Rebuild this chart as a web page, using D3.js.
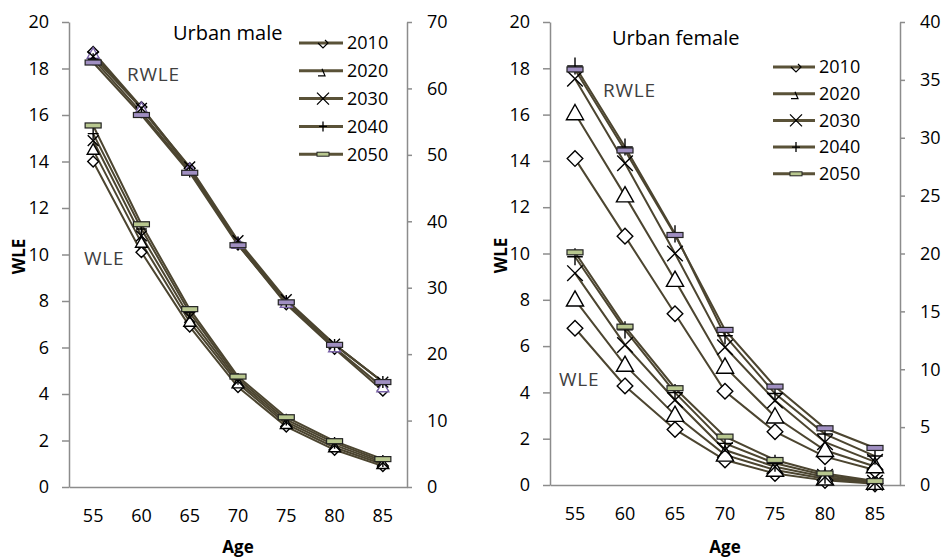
<!DOCTYPE html>
<html>
<head>
<meta charset="utf-8">
<script src="https://cdn.jsdelivr.net/npm/d3@7"></script>
<style>
  body { margin: 0; background: #fff; }
  svg { display: block; font-family: "Open Sans", sans-serif; }
</style>
</head>
<body>
<script>
const width = 946,
  height = 557;

// shared categories
const ages = [55, 60, 65, 70, 75, 80, 85];
const years = ["2010", "2020", "2030", "2040", "2050"];

// Urban male: WLE on left axis (0-20), RWLE on right axis (0-70)
const maleWLE = [
  [14.0, 10.1, 6.9, 4.3, 2.6, 1.6, 0.9],
  [14.5, 10.5, 7.1, 4.45, 2.7, 1.7, 0.98],
  [14.9, 10.8, 7.3, 4.55, 2.8, 1.8, 1.05],
  [15.2, 11.1, 7.5, 4.65, 2.9, 1.9, 1.12],
  [15.55, 11.3, 7.65, 4.75, 3.0, 1.97, 1.2],
];
const maleRWLE = [
  [65.5, 57.2, 48.0, 36.5, 27.5, 20.8, 14.5],
  [65.2, 57.0, 47.8, 36.6, 27.7, 21.0, 15.0],
  [64.8, 57.0, 48.2, 37.1, 28.2, 21.5, 15.8],
  [64.4, 56.4, 47.5, 36.8, 28.0, 21.4, 15.8],
  [63.9, 56.0, 47.3, 36.4, 27.8, 21.4, 15.8],
];

// Urban female: WLE on left axis (0-20), RWLE on right axis (0-40)
const femaleWLE = [
  [6.77, 4.28, 2.4, 1.08, 0.5, 0.2, 0.05],
  [8.0, 5.18, 3.02, 1.3, 0.65, 0.27, 0.08],
  [9.15, 6.05, 3.67, 1.51, 0.79, 0.35, 0.1],
  [9.86, 6.7, 3.99, 1.8, 0.94, 0.42, 0.13],
  [10.05, 6.84, 4.18, 2.09, 1.08, 0.5, 0.17],
];
const femaleRWLE = [
  [28.2, 21.5, 14.8, 8.1, 4.6, 2.45, 1.3],
  [32.1, 25.0, 17.7, 10.2, 5.9, 3.0, 1.6],
  [35.1, 27.8, 20.0, 11.9, 7.3, 3.7, 2.0],
  [36.2, 29.2, 21.7, 12.9, 7.9, 4.4, 2.5],
  [35.9, 28.9, 21.6, 13.4, 8.5, 4.9, 3.2],
];

const leftTicks = d3.range(0, 21, 2);

const lineColor = "#4c4530";
const axisColor = "#8c8c8c";
const purpleFill = "#a08fc2";
const greenFill = "#b8c78f";

const svg = d3
  .select("body")
  .append("svg")
  .attr("width", width)
  .attr("height", height)
  .attr("viewBox", [0, 0, width, height]);

// marker shapes, k = size factor
function markerPath(i, k) {
  const s = 6 * k;
  if (i === 0) return `M0,${-s}L${s},0L0,${s}L${-s},0Z`;
  if (i === 1) return `M0,${-s * 1.15}L${s * 1.1},${s * 0.8}L${-s * 1.1},${s * 0.8}Z`;
  if (i === 2) return `M${-s},${-s}L${s},${s}M${-s},${s}L${s},${-s}`;
  if (i === 3) return `M${-s},0L${s},0M0,${-s * 1.1}L0,${s * 1.1}`;
  return null;
}

function drawPanel(p) {
  const g = svg.append("g");

  const x = d3.scaleBand().domain(ages).range([p.x0, p.x1]);
  const cx = (a) => x(a) + x.bandwidth() / 2;
  const yL = d3.scaleLinear().domain([0, 20]).range([p.yb, p.yt]);
  const yR = d3.scaleLinear().domain([0, p.rmax]).range([p.yb, p.yt]);

  // axes
  const left = g
    .append("g")
    .attr("transform", `translate(${p.x0},0)`)
    .call(d3.axisLeft(yL).tickValues(leftTicks).tickSize(7).tickPadding(13).tickSizeOuter(0));
  const right = g
    .append("g")
    .attr("transform", `translate(${p.x1},0)`)
    .call(d3.axisRight(yR).tickValues(d3.range(0, p.rmax + 1, p.rstep)).tickSize(5).tickPadding(15).tickSizeOuter(0));
  const bottom = g
    .append("g")
    .attr("transform", `translate(0,${p.yb})`)
    .call(d3.axisBottom(x).tickSize(0).tickPadding(22).tickSizeOuter(0));

  [left, right, bottom].forEach((ax) => {
    ax.select(".domain").attr("stroke", axisColor).attr("stroke-width", 1.5);
    ax.selectAll(".tick line").attr("stroke", axisColor).attr("stroke-width", 1.5);
    ax.selectAll("text").attr("fill", "#000").style("font-size", "18px").style("font-family", "Open Sans");
  });

  // draw series: WLE (left axis) then RWLE (right axis)
  const groups = [
    { data: p.wle, y: yL, fill: greenFill, tri: "#000" },
    { data: p.rwle, y: yR, fill: purpleFill, tri: p.rwleTri },
  ];

  const line = (y) =>
    d3
      .line()
      .x((d, i) => cx(ages[i]))
      .y((d) => y(d));

  groups.forEach((grp) => {
    grp.data.forEach((vals) => {
      g.append("path")
        .datum(vals)
        .attr("d", line(grp.y))
        .attr("fill", "none")
        .attr("stroke", lineColor)
        .attr("stroke-width", 2);
    });
  });

  groups.forEach((grp) => {
    grp.data.forEach((vals, si) => {
      const pts = g
        .append("g")
        .selectAll("g")
        .data(vals)
        .join("g")
        .attr("transform", (d, i) => `translate(${cx(ages[i])},${grp.y(d)})`);
      if (si < 4) {
        pts
          .append("path")
          .attr("d", markerPath(si, p.mk))
          .attr("fill", si < 2 ? "#fff" : "none")
          .attr("stroke", si === 1 ? grp.tri : "#000")
          .attr("stroke-width", 1.4);
      } else {
        pts
          .append("rect")
          .attr("x", -8)
          .attr("y", -2.5)
          .attr("width", 16)
          .attr("height", 5)
          .attr("fill", grp.fill)
          .attr("stroke", "#222")
          .attr("stroke-width", 1.2);
      }
    });
  });

  // legend
  const leg = g
    .append("g")
    .selectAll("g")
    .data(years)
    .join("g")
    .attr("transform", (d, i) => `translate(${p.lx},${p.ly + i * p.lstep})`);
  leg
    .append("line")
    .attr("x1", 0)
    .attr("x2", p.lw)
    .attr("stroke", "#5a5238")
    .attr("stroke-width", 3);
  const mx = p.lw / 2 + 2;
  leg
    .filter((d, i) => i === 0)
    .append("path")
    .attr("d", `M${mx - 5},0L${mx},5L${mx + 5},0L${mx + 2},-3`)
    .attr("fill", "none")
    .attr("stroke", "#000")
    .attr("stroke-width", 1.2);
  leg
    .filter((d, i) => i === 1)
    .append("path")
    .attr("d", `M${mx - 5},5L${mx + 2},5L${mx - 1},-2`)
    .attr("fill", "none")
    .attr("stroke", "#000")
    .attr("stroke-width", 1.2);
  leg
    .filter((d, i) => i === 2)
    .append("path")
    .attr("d", `M${mx - 6},-6L${mx + 6},6M${mx - 6},6L${mx + 6},-6`)
    .attr("stroke", "#000")
    .attr("stroke-width", 1.3);
  leg
    .filter((d, i) => i === 3)
    .append("path")
    .attr("d", `M${mx - 4},0L${mx + 4},0M${mx},-5L${mx},5`)
    .attr("stroke", "#000")
    .attr("stroke-width", 1.3);
  leg
    .filter((d, i) => i === 4)
    .append("rect")
    .attr("x", mx - 6)
    .attr("y", -2)
    .attr("width", 12)
    .attr("height", 4)
    .attr("fill", greenFill)
    .attr("stroke", "#222")
    .attr("stroke-width", 1);
  leg
    .append("text")
    .attr("x", p.lw + 4)
    .attr("dy", "0.35em")
    .style("font-size", "18px")
    .text((d) => d);

  // titles and labels
  g.append("text").attr("x", p.tx).attr("y", p.ty).style("font-size", "20px").text(p.title);
  g.append("text")
    .attr("x", p.rwx)
    .attr("y", p.rwy)
    .attr("fill", "#404040")
    .style("font-size", "19px")
    .style("letter-spacing", "0.8px")
    .text("RWLE");
  g.append("text")
    .attr("x", p.wx)
    .attr("y", p.wy)
    .attr("fill", "#404040")
    .style("font-size", "19px")
    .style("letter-spacing", "0.8px")
    .text("WLE");
  g.append("text")
    .attr("transform", `translate(${p.ylx},${(p.yt + p.yb) / 2 + 2}) rotate(-90)`)
    .attr("text-anchor", "middle")
    .attr("dy", "0.35em")
    .style("font-size", "17px")
    .style("font-weight", "bold")
    .text("WLE");
  g.append("text")
    .attr("x", (p.x0 + p.x1) / 2)
    .attr("y", 553)
    .attr("text-anchor", "middle")
    .style("font-size", "17px")
    .style("font-weight", "bold")
    .text("Age");
}

drawPanel({
  x0: 69, x1: 407, yt: 22, yb: 487, rmax: 70, rstep: 10, mk: 0.9,
  wle: maleWLE, rwle: maleRWLE, rwleTri: "#7a63a8",
  lx: 299, ly: 43, lstep: 27.8, lw: 44,
  title: "Urban male", tx: 173, ty: 40,
  rwx: 127, rwy: 81, wx: 84, wy: 265, ylx: 19,
});

drawPanel({
  x0: 550, x1: 900, yt: 22, yb: 485, rmax: 40, rstep: 5, mk: 1.3,
  wle: femaleWLE, rwle: femaleRWLE, rwleTri: "#000",
  lx: 773, ly: 67, lstep: 26.7, lw: 42,
  title: "Urban female", tx: 612, ty: 45,
  rwx: 603, rwy: 97, wx: 559, wy: 386, ylx: 501,
});
</script>
</body>
</html>
